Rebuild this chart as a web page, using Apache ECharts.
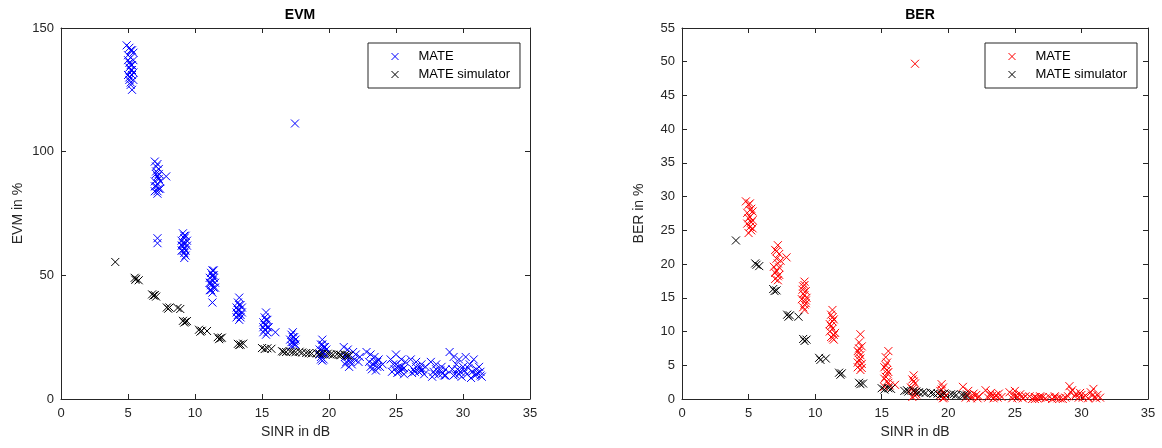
<!DOCTYPE html>
<html>
<head>
<meta charset="utf-8">
<script src="https://cdn.jsdelivr.net/npm/echarts@6/dist/echarts.min.js"></script>
<style>html,body{margin:0;padding:0;background:#fff}#c{width:1162px;height:448px}</style>
</head>
<body>
<div id="c"></div>
<script>
const titles = ['EVM', 'BER'];
const yNames = ['EVM in %', 'BER in %'];
const xName = 'SINR in dB';
const legendNames = ['MATE', 'MATE simulator'];
const xTicks = [0, 35, 5];
const evmTicks = [0, 150, 50];
const berTicks = [0, 55, 5];

const evmMate = [
  [4.9,143],[5.1,142],[5.3,141],[5.0,139],[5.2,138],[5.4,140],[5.1,136],[5.3,135],[5.2,133],[5.0,131],[5.3,131],[5.1,129],[5.2,128],[5.4,129],[5.2,127],[5.3,125],[5.1,134],[5.4,137],
  [5.2,141],[5.0,137],[5.3,133],[5.1,130],[5.4,132],[5.2,135],
  [7.0,96],[7.2,95],[7.3,93],[7.1,92],[7.2,90],[7.3,89],[7.0,88],[7.2,87],[7.1,86],[7.3,85],[7.0,84],[7.2,83],[7.4,85],[7.1,91],[7.85,90],[7.2,65],[7.2,63],
  [7.1,94],[7.3,91],[7.0,86],[7.2,84],[7.4,88],
  [9.1,67],[9.3,66],[9.2,65],[9.0,64],[9.3,63],[9.1,62],[9.2,61],[9.4,62],[9.0,60],[9.2,59],[9.3,58],[9.1,63],[9.2,57],
  [9.2,66],[9.0,62],[9.3,60],[9.4,64],[9.1,60],
  [11.3,52],[11.2,51],[11.4,50],[11.1,49],[11.3,48],[11.5,47],[11.2,46],[11.4,45],[11.1,44],[11.3,43],[11.2,47],[11.4,49],[11.3,39],
  [11.3,50],[11.1,47],[11.5,45],[11.2,44],[11.4,52],
  [13.3,41],[13.2,39],[13.4,38],[13.1,37],[13.3,36],[13.5,35],[13.2,34],[13.4,33],[13.3,32],[13.1,35],[13.5,37],
  [13.2,36],[13.4,34],[13.3,38],[13.1,33],
  [15.3,35],[15.2,33],[15.4,32],[15.1,31],[15.3,30],[15.5,29],[15.2,28],[15.4,27],[15.3,26],[15.1,29],[16.0,27],
  [15.3,32],[15.2,30],[15.4,29],[15.1,27],
  [17.3,27],[17.2,26],[17.4,25],[17.1,24],[17.3,23],[17.5,22],[17.2,21.5],[17.4,23.5],[17.46,111.4],
  [17.3,25],[17.2,23],[17.4,22],[17.5,24],
  [19.5,24],[19.4,22],[19.6,21],[19.3,20],[19.5,19],[19.7,18],[19.4,17],[19.6,16],[19.5,15.5],[19.8,20],
  [19.5,22],[19.3,18],[19.6,19],[19.4,16],[19.7,21],
  [21.1,21],[21.4,20],[21.8,19],[22.0,18],[21.2,17],[21.6,16],[22.2,15],[21.3,15],[21.7,14],[21.5,13],[22.3,17],
  [21.4,17],[21.9,16],[21.2,14],[21.6,15],
  [22.8,19],[23.1,18],[23.4,17],[23.7,16],[23.0,15],[23.3,14],[23.6,13],[24.0,14],[23.2,12],[23.5,11.5],
  [23.4,15],[23.8,13],[23.1,13],[23.6,15],
  [24.6,16],[25.0,18],[25.4,16],[25.7,15],[24.8,14],[25.2,13],[25.5,12],[24.7,11],[25.1,10.5],[25.6,10],[25.3,11.5],
  [25.0,14],[25.4,13],[24.9,12],[25.6,12.5],[25.2,11],
  [26.1,16],[26.5,15],[26.9,14],[27.2,13],[26.3,12],[26.7,11],[27.1,10],[26.2,10.5],[26.8,12.5],
  [26.5,13],[26.9,11.5],[26.4,11],[27.0,12],
  [27.6,15],[28.0,14],[28.4,13],[28.7,12],[27.8,11],[28.2,10],[28.6,9.5],[27.7,9],[28.3,11.5],
  [28.0,12],[28.5,10.5],[27.9,10],[28.7,9.5],
  [29.0,19],[29.3,17],[29.7,16],[30.2,17],[30.8,16],[29.5,14],[30.0,13],[30.5,14],[31.0,12],[31.3,11],[29.2,12],[29.8,11],[30.3,10],[30.9,9.5],[31.4,9],[29.4,10],[30.6,8.5],[31.1,10.5],[29.9,9],[31.2,13],
  [29.6,12],[30.1,11.5],[30.7,11],[31.0,10],[29.3,9.5],[30.4,12.5],[31.3,9.5],[29.7,10]
];
const evmSim = [
  [4.05,55.4],[5.5,49],[5.6,48.6],[5.8,48],[5.55,48.2],[6.8,42.3],[6.9,41.8],[7.1,41.4],[7.0,42],[7.9,37],[8.0,36.5],[8.1,37],[8.7,36.8],[8.9,36.4],
  [9.1,31.6],[9.3,31.2],[9.4,31.5],[9.2,30.9],[10.3,28],[10.5,27.6],[10.4,27.2],[10.9,27.5],[11.7,25],[11.9,24.6],[11.8,24.2],[12.0,24.8],
  [13.2,22.3],[13.4,22],[13.6,22.4],[13.3,21.8],[15.0,20.6],[15.2,20.2],[15.4,20.5],[15.7,20.3],[16.5,19.3],[16.8,19],[17.1,19.2],[17.5,18.9],[17.8,19.1],
  [18.3,18.6],[18.7,18.4],[19.1,18.5],[19.5,18.2],[19.9,18.3],[20.3,17.9],[20.6,18.1],[20.9,17.7],[21.2,17.8],[21.5,17.5],
  [16.6,19.1],[17.3,19],[18.0,18.8],[18.5,18.5],[19.3,18.3],[20.1,18],[20.8,17.9],[21.4,17.6]
];
const berMate = [
  [4.8,29.3],[5.0,28.8],[5.2,28.2],[4.9,27.6],[5.1,27.0],[5.3,26.5],[4.9,26.0],[5.1,25.5],[5.2,25.0],[5.0,24.6],[5.3,27.8],[5.1,29.0],
  [5.0,26.8],[5.2,26.2],[5.1,28.0],[5.3,25.3],
  [7.2,22.8],[7.0,22.1],[7.3,21.5],[7.1,20.8],[7.2,20.1],[6.9,19.6],[7.1,19.0],[7.3,18.4],[7.0,17.8],[7.2,17.6],[7.85,21.0],[7.4,20.5],
  [7.1,21.9],[7.3,19.5],[7.0,18.7],[7.2,18.2],
  [9.2,17.4],[9.1,16.7],[9.3,16.0],[9.2,15.4],[9.0,14.8],[9.3,14.2],[9.1,13.6],[9.2,13.2],[9.35,15.0],[9.05,16.2],
  [9.2,16.9],[9.1,15.6],[9.3,14.6],[9.2,14.0],
  [11.3,13.2],[11.2,12.5],[11.4,11.8],[11.1,11.1],[11.3,10.4],[11.5,9.8],[11.2,9.2],[11.4,8.8],[11.3,11.5],[11.1,10.0],
  [11.3,12.1],[11.2,10.8],[11.4,9.5],[11.3,9.0],
  [13.4,9.6],[13.3,8.4],[13.5,7.8],[13.2,7.1],[13.4,6.5],[13.3,5.8],[13.5,5.2],[13.2,4.7],[13.4,4.3],[13.3,6.9],
  [13.3,7.5],[13.4,6.0],[13.2,5.4],[13.5,4.6],
  [15.5,7.1],[15.3,6.2],[15.4,5.4],[15.2,4.7],[15.5,4.0],[15.3,3.3],[15.4,2.6],[15.6,2.0],[15.2,1.8],[15.4,3.8],[16.0,2.1],
  [15.3,5.0],[15.4,4.3],[15.2,3.0],[15.5,2.4],
  [17.4,3.5],[17.3,2.9],[17.5,2.3],[17.2,1.7],[17.4,1.2],[17.6,0.7],[17.3,0.3],[17.5,1.0],[17.5,49.7],
  [17.4,2.6],[17.3,1.5],[17.5,0.5],
  [19.5,2.2],[19.6,1.7],[19.4,1.2],[19.7,0.8],[19.5,0.4],[19.6,0.1],[19.8,0.5],
  [19.5,1.4],[19.4,0.6],[19.7,0.2],
  [21.1,1.8],[21.5,1.2],[21.9,0.8],[22.3,0.4],[21.3,0.2],[21.7,0.1],[22.1,0.6],
  [21.4,0.7],[21.8,0.3],[22.2,0.1],
  [22.8,1.3],[23.2,0.9],[23.6,0.6],[24.0,0.3],[23.0,0.2],[23.4,0.1],[23.8,0.8],
  [23.3,0.5],[23.7,0.2],[23.1,0.6],
  [24.6,1.0],[25.0,1.2],[25.4,0.7],[25.8,0.4],[24.8,0.1],[25.2,0.2],[25.6,0.1],
  [25.1,0.5],[25.5,0.3],[24.9,0.6],
  [26.1,0.4],[26.5,0.3],[26.9,0.2],[27.3,0.1],[26.3,0],[26.7,0.1],[27.1,0.3],
  [26.5,0],[26.9,0.4],
  [27.6,0.3],[28.0,0.2],[28.4,0.1],[28.8,0.2],[27.8,0],[28.2,0.1],
  [28.0,0.4],[28.6,0],
  [29.1,1.9],[29.3,1.3],[29.6,0.8],[30.0,0.6],[30.3,0.5],[30.7,1.0],[30.9,1.5],[31.2,0.6],[31.4,0.2],[29.8,0.2],[30.5,0.1],[29.0,0.4],[31.0,0.3],
  [29.2,1.0],[29.5,0.4],[30.1,0.2],[30.8,0.5],[31.1,0.1],[29.9,0.9]
];
const berSim = [
  [4.05,23.5],[5.5,20.1],[5.6,19.9],[5.8,19.7],[6.85,16.3],[6.95,16.0],[7.1,16.1],[7.9,12.5],[8.0,12.2],[8.1,12.4],[8.75,12.2],
  [9.1,8.9],[9.2,8.6],[9.35,8.8],[10.3,6.1],[10.4,5.8],[10.8,6.0],[11.8,3.9],[11.9,3.6],[12.0,3.8],[13.3,2.4],[13.4,2.2],[13.6,2.3],
  [15.0,1.6],[15.2,1.4],[15.5,1.6],[15.7,1.5],[16.7,1.2],[17.0,1.1],[17.4,1.2],[17.8,1.0],[18.3,0.9],[18.7,0.9],[19.2,0.8],[19.7,0.8],
  [20.2,0.7],[20.6,0.6],[21.0,0.6],[21.4,0.5],
  [16.9,1.3],[17.6,1.1],[18.1,1.0],[18.9,0.8],[19.5,0.7],[20.4,0.7],[21.2,0.6]
];

const FONT = '"Liberation Sans", Arial, sans-serif';
const AX = '#262626';
const X_SYM = 'path://M0,0L10,10M0,10L10,0';
const BER_PREFIX = 'BER: ';

const grids = [
  {left: 61, top: 28, width: 469, height: 371},
  {left: 682, top: 28, width: 466, height: 371}
];

function xAx(gi, pos, showLabel) {
  return {
    type: 'value', gridIndex: gi, position: pos,
    min: xTicks[0], max: xTicks[1], interval: xTicks[2],
    name: showLabel ? xName : '', nameLocation: 'middle', nameGap: 26,
    nameTextStyle: {fontFamily: FONT, fontSize: 14, color: AX},
    axisLine: {show: true, onZero: false, lineStyle: {color: AX, width: 1}},
    axisTick: {show: true, inside: true, length: 5, lineStyle: {color: AX}},
    axisLabel: {show: showLabel, fontFamily: FONT, fontSize: 13, color: AX, margin: 8},
    splitLine: {show: false}
  };
}
function yAx(gi, pos, ticks, showLabel) {
  return {
    type: 'value', gridIndex: gi, position: pos,
    min: ticks[0], max: ticks[1], interval: ticks[2],
    name: showLabel ? yNames[gi] : '', nameLocation: 'middle', nameGap: 36,
    nameTextStyle: {fontFamily: FONT, fontSize: 14, color: AX},
    axisLine: {show: true, onZero: false, lineStyle: {color: AX, width: 1}},
    axisTick: {show: true, inside: true, length: 5, lineStyle: {color: AX}},
    axisLabel: {show: showLabel, fontFamily: FONT, fontSize: 13, color: AX, margin: 7},
    splitLine: {show: false}
  };
}
function sc(name, data, xi, yi, color) {
  return {
    type: 'scatter', name: name, data: data, xAxisIndex: xi, yAxisIndex: yi,
    symbol: X_SYM, symbolSize: 8, clip: false, animation: false,
    itemStyle: {color: 'rgba(0,0,0,0)', borderColor: color, borderWidth: 1, opacity: 1},
    emphasis: {disabled: true}
  };
}
function legend(left, names) {
  return {
    orient: 'vertical', left: left, top: 43, width: 150,
    padding: [7, 10, 7, 23], itemGap: 5, itemWidth: 7, itemHeight: 7,
    borderColor: AX, borderWidth: 1, backgroundColor: '#fff',
    selectedMode: false,
    itemStyle: {color: 'rgba(0,0,0,0)', borderWidth: 1},
    formatter: function (n) { return n.indexOf(BER_PREFIX) === 0 ? n.slice(BER_PREFIX.length) : n; },
    textStyle: {fontFamily: FONT, fontSize: 13, color: '#000', padding: [0, 0, 0, 15]},
    data: names
  };
}
const berNames = legendNames.map(n => BER_PREFIX + n);

const chart = echarts.init(document.getElementById('c'), null, {renderer: 'canvas'});
chart.setOption({
  animation: false,
  backgroundColor: '#fff',
  title: [
    {text: titles[0], left: 295, top: 3, textAlign: 'center', textStyle: {fontFamily: FONT, fontSize: 14, fontWeight: 'bold', color: '#000'}},
    {text: titles[1], left: 915, top: 3, textAlign: 'center', textStyle: {fontFamily: FONT, fontSize: 14, fontWeight: 'bold', color: '#000'}}
  ],
  grid: grids,
  xAxis: [xAx(0, 'bottom', true), xAx(0, 'top', false), xAx(1, 'bottom', true), xAx(1, 'top', false)],
  yAxis: [yAx(0, 'left', evmTicks, true), yAx(0, 'right', evmTicks, false), yAx(1, 'left', berTicks, true), yAx(1, 'right', berTicks, false)],
  legend: [legend(368, legendNames), legend(985, berNames)],
  series: [
    sc(legendNames[0], evmMate, 0, 0, '#0000ff'),
    sc(legendNames[1], evmSim, 0, 0, '#000000'),
    sc(berNames[0], berMate, 2, 2, '#ff0000'),
    sc(berNames[1], berSim, 2, 2, '#000000')
  ]
});
</script>
</body>
</html>
